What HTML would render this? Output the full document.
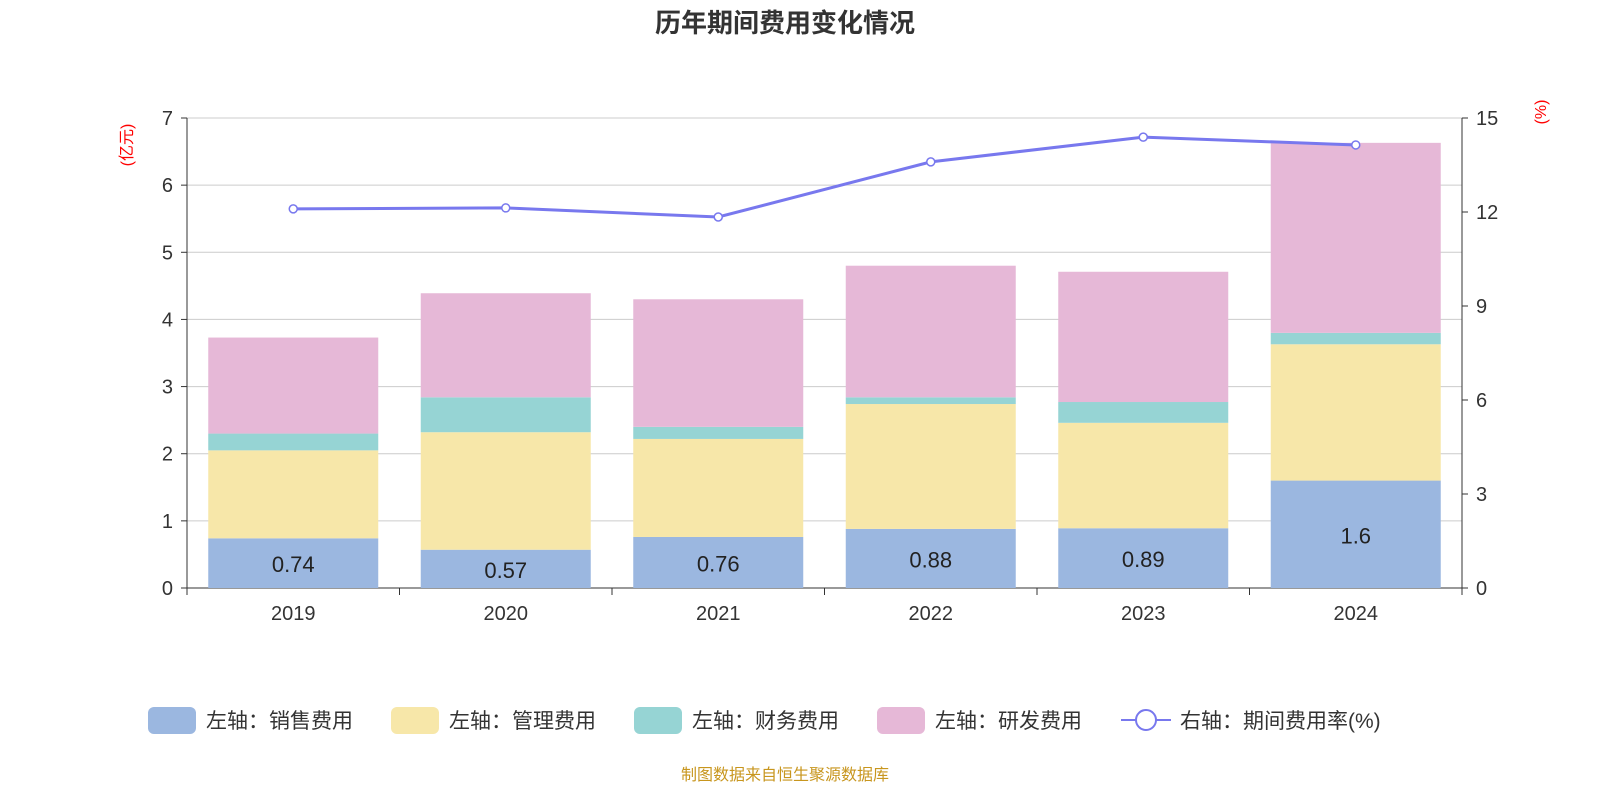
<!DOCTYPE html>
<html><head><meta charset="utf-8"><style>
body{margin:0;background:#fff;width:1600px;height:800px;overflow:hidden;font-family:"Liberation Sans","Noto Sans CJK SC",sans-serif;}
</style></head><body>
<svg id="c" width="1600" height="800" xmlns="http://www.w3.org/2000/svg"></svg>
<script>
const categories=["2019","2020","2021","2022","2023","2024"];
const sales=[0.74,0.57,0.76,0.88,0.89,1.6];
const mgmt=[1.31,1.75,1.46,1.86,1.57,2.03];
const fin=[0.25,0.52,0.18,0.10,0.31,0.17];
const rd=[1.43,1.55,1.90,1.96,1.94,2.83];
const rate=[12.10,12.13,11.84,13.60,14.39,14.14];
const leftTicks=[0,1,2,3,4,5,6,7];
const rightTicks=[0,3,6,9,12,15];

const svg=document.getElementById('c');
const NS='http://www.w3.org/2000/svg';
const X0=187,X1=1462,Y0=588,Y1=118;
const yL=v=>Y0-(v/7)*(Y0-Y1);
const yR=v=>Y0-(v/15)*(Y0-Y1);
const bw=(X1-X0)/categories.length;
const xc=i=>X0+bw*(i+0.5);
function el(t,a,txt){const e=document.createElementNS(NS,t);for(const k in a)e.setAttribute(k,a[k]);if(txt!==undefined)e.textContent=txt;svg.appendChild(e);return e;}
const F='"Liberation Sans","Noto Sans CJK SC",sans-serif';

let t=el('text',{x:785,y:32,'text-anchor':'middle','font-size':26,'font-weight':'bold',fill:'#333','font-family':F},'历年期间费用变化情况');



leftTicks.forEach(v=>{
  const g=el('line',{x1:X0,x2:X1,y1:yL(v),y2:yL(v),stroke:v===0?'#333':'#ccc','stroke-width':1});
  
  
  const l=el('text',{x:X0-14,y:yL(v)+7,'text-anchor':'end','font-size':20,fill:'#333','font-family':F},String(v));
  
  
  el('line',{x1:X0-6,x2:X0,y1:yL(v),y2:yL(v),stroke:'#333'});
});
rightTicks.forEach(v=>{
  const l=el('text',{x:X1+14,y:yR(v)+7,'text-anchor':'start','font-size':20,fill:'#333','font-family':F},String(v));
  
  
  el('line',{x1:X1,x2:X1+6,y1:yR(v),y2:yR(v),stroke:'#333'});
});
el('line',{x1:X0,x2:X0,y1:Y1,y2:Y0,stroke:'#333'});
el('line',{x1:X1,x2:X1,y1:Y1,y2:Y0,stroke:'#333'});
for(let i=0;i<=categories.length;i++)el('line',{x1:X0+bw*i,x2:X0+bw*i,y1:Y0,y2:Y0+7,stroke:'#333'});

let u=el('text',{x:0,y:0,'font-size':16,fill:'red','font-family':F,transform:'translate(132,145) rotate(-90)','text-anchor':'middle'},'(亿元)');


u=el('text',{x:0,y:0,'font-size':16,fill:'red','font-family':F,transform:'translate(1546,112) rotate(-90)','text-anchor':'middle'},'(%)');



const series=[[sales,'#9bb7e0','bar-sales'],[mgmt,'#f7e7a9','bar-management'],[fin,'#96d4d4','bar-finance'],[rd,'#e6b8d7','bar-rnd']];
categories.forEach((c,i)=>{
  let base=0;
  series.forEach(([arr,col,name])=>{
    const r=el('rect',{x:xc(i)-85,width:170,y:yL(base+arr[i]),height:yL(base)-yL(base+arr[i]),fill:col});
    
    
    base+=arr[i];
  });
  const v=el('text',{x:xc(i),y:(yL(0)+yL(sales[i]))/2+9,'text-anchor':'middle','font-size':22,fill:'#222','font-family':F},String(sales[i]));
  
  
  const xl=el('text',{x:xc(i),y:620,'text-anchor':'middle','font-size':20,fill:'#333','font-family':F},c);
  
  
});
const pl=el('polyline',{points:rate.map((v,i)=>xc(i)+','+yR(v)).join(' '),fill:'none',stroke:'#7878ee','stroke-width':3});


rate.forEach((v,i)=>{
  const p=el('circle',{cx:xc(i),cy:yR(v),r:4,fill:'#fff',stroke:'#7878ee','stroke-width':1.5});
  
  
});

const leg=[['#9bb7e0','左轴：销售费用',148],['#f7e7a9','左轴：管理费用',391],['#96d4d4','左轴：财务费用',634],['#e6b8d7','左轴：研发费用',877]];
leg.forEach(([col,txt,x])=>{
  const r=el('rect',{x:x,y:707,width:48,height:27,rx:6,fill:col});
  
  
  const l=el('text',{x:x+58,y:728,'font-size':21,fill:'#333','font-family':F},txt);
  
  
});
el('line',{x1:1121,x2:1171,y1:720,y2:720,stroke:'#7878ee','stroke-width':2});
el('circle',{cx:1146,cy:720,r:10,fill:'#fff',stroke:'#7878ee','stroke-width':2});
const ll=el('text',{x:1180,y:728,'font-size':21,fill:'#333','font-family':F},'右轴：期间费用率(%)');



const s=el('text',{x:785,y:780,'text-anchor':'middle','font-size':16,fill:'#c8961e','font-family':F},'制图数据来自恒生聚源数据库');


</script>
</body></html>
